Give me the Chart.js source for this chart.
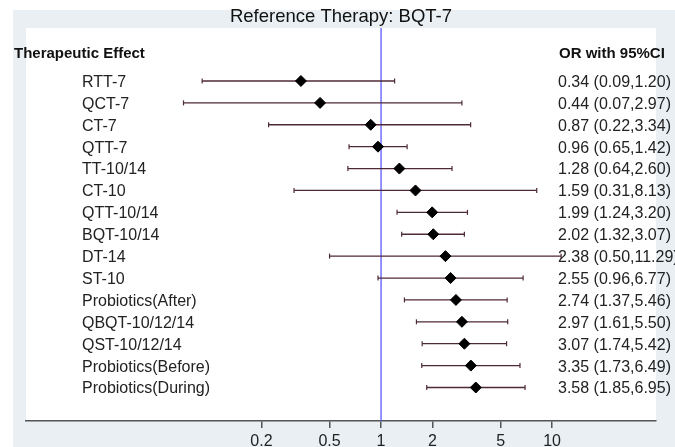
<!DOCTYPE html>
<html>
<head>
<meta charset="utf-8">
<script src="https://cdn.jsdelivr.net/npm/chart.js@4.4.1/dist/chart.umd.min.js"></script>
<style>
  html, body { margin: 0; padding: 0; overflow: hidden; background: #fff; }
  canvas { display: block; }
</style>
</head>
<body>
<canvas id="forest" width="675" height="447"></canvas>
<script>
Chart.defaults.font.family = "'Liberation Sans', Arial, sans-serif";

// treatments compared against BQT-7
const therapies = [
    "RTT-7", "QCT-7", "CT-7", "QTT-7", "TT-10/14", "CT-10", "QTT-10/14",
    "BQT-10/14", "DT-14", "ST-10", "Probiotics(After)", "QBQT-10/12/14",
    "QST-10/12/14", "Probiotics(Before)", "Probiotics(During)"
];
const oddsRatio = [0.34, 0.44, 0.87, 0.96, 1.28, 1.59, 1.99, 2.02, 2.38, 2.55, 2.74, 2.97, 3.07, 3.35, 3.58];
const ciLow     = [0.09, 0.07, 0.22, 0.65, 0.64, 0.31, 1.24, 1.32, 0.50, 0.96, 1.37, 1.61, 1.74, 1.73, 1.85];
const ciHigh    = [1.20, 2.97, 3.34, 1.42, 2.60, 8.13, 3.20, 3.07, 11.29, 6.77, 5.46, 5.50, 5.42, 6.49, 6.95];
const xTicks    = [0.2, 0.5, 1, 2, 5, 10];

const Y_MIN = -2.42, Y_MAX = 15.53;
const HEADER_ROW = -1.22;

var ciSets = therapies.map((t, i) => ({
    type: "line",
    label: t,
    data: [{x: ciLow[i], y: i}, {x: ciHigh[i], y: i}],
    borderColor: "#4e2a34",
    borderWidth: 1.3,
    pointStyle: "line",
    rotation: 90,
    pointRadius: 2.5,
    pointBorderColor: "#4e2a34",
    pointBorderWidth: 1.2,
    order: 2
}));

var refLine = {
    type: "line",
    label: "ref",
    data: [{x: 1, y: Y_MIN}, {x: 1, y: Y_MAX}],
    borderColor: "#4c4cff",
    borderWidth: 1.2,
    pointRadius: 0,
    order: 3
};

var diamonds = {
    type: "scatter",
    label: "OR",
    data: oddsRatio.map((v, i) => ({x: v, y: i})),
    pointStyle: "rectRot",
    pointRadius: 5.5,
    backgroundColor: "#000",
    borderColor: "#000",
    order: 1
};

const framePlugin = {
    id: "frame",
    beforeDraw(chart) {
        const ctx = chart.ctx, a = chart.chartArea;
        ctx.save();
        ctx.fillStyle = "#fff";
        ctx.fillRect(0, 0, chart.width, chart.height);
        ctx.fillStyle = "#e9eff2";
        ctx.fillRect(13, 10, chart.width - 13, chart.height - 10);
        ctx.fillStyle = "#fff";
        ctx.fillRect(a.left, a.top, a.right - a.left, a.bottom - a.top);
        ctx.restore();
    },
    afterDraw(chart) {
        const ctx = chart.ctx, a = chart.chartArea, ys = chart.scales.y;
        ctx.save();
        ctx.fillStyle = "#111";
        ctx.textBaseline = "middle";
        ctx.textAlign = "center";
        ctx.font = "18.5px 'Liberation Sans', Arial, sans-serif";
        ctx.fillText("Reference Therapy: BQT-7", (a.left + a.right) / 2, 17);

        ctx.textAlign = "left";
        ctx.font = "bold 15px 'Liberation Sans', Arial, sans-serif";
        let hy = ys.getPixelForValue(HEADER_ROW);
        ctx.fillText("Therapeutic Effect", 14, hy);
        ctx.fillText("OR with 95%CI", 559, hy);

        ctx.font = "16px 'Liberation Sans', Arial, sans-serif";
        ctx.fillStyle = "#222";
        for (let i = 0; i < therapies.length; i++) {
            let y = ys.getPixelForValue(i) + 1.5;
            ctx.fillText(therapies[i], 82, y);
            let txt = oddsRatio[i].toFixed(2) + " (" + ciLow[i].toFixed(2) + "," + ciHigh[i].toFixed(2) + ")";
            ctx.fillText(txt, 558, y);
        }
        ctx.restore();
    }
};

var chart = new Chart(document.getElementById("forest"), {
    data: {
        datasets: [diamonds].concat(ciSets, [refLine])
    },
    options: {
        responsive: false,
        animation: false,
        layout: {
            padding: {left: 26, right: 19, top: 28, bottom: 0}
        },
        plugins: {
            legend: {display: false},
            tooltip: {enabled: false}
        },
        scales: {
            x: {
                type: "logarithmic",
                min: 0.0084,
                max: 40.5,
                afterBuildTicks: (axis) => {
                    axis.ticks = xTicks.map(v => ({value: v}));
                },
                // reference crops the tick labels at the bottom edge
                afterFit: (axis) => {
                    axis.height = 26;
                },
                ticks: {
                    autoSkip: false,
                    maxRotation: 0,
                    padding: 4,
                    color: "#222",
                    font: {size: 16},
                    callback: (v) => String(v)
                },
                grid: {
                    drawOnChartArea: false,
                    drawTicks: true,
                    tickLength: 7,
                    color: "#555",
                    lineWidth: 1.5
                },
                border: {display: true, color: "#555", width: 1.5}
            },
            y: {
                type: "linear",
                reverse: true,
                min: Y_MIN,
                max: Y_MAX,
                display: false
            }
        }
    },
    plugins: [framePlugin]
});
</script>
</body>
</html>
